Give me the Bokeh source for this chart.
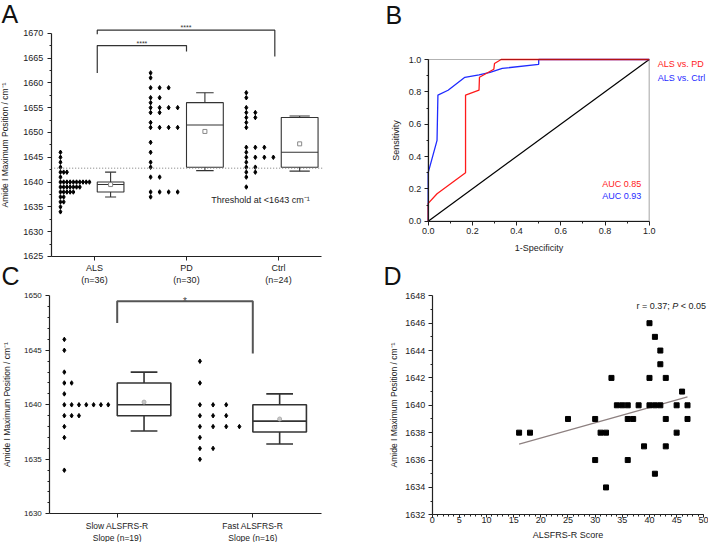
import numpy as np
from bokeh.plotting import figure
from bokeh.models import Range1d, FixedTicker, Label, NumeralTickFormatter, BoxAnnotation
from bokeh.layouts import column, row
from bokeh.embed import file_html
from bokeh.resources import INLINE

FONT = "Liberation Sans"
INK = "#222222"

# ---------------- Panel A data ----------------
tick_labels_A = ["ALS\n(n=36)", "PD\n(n=30)", "Ctrl\n(n=24)"]
als_values = [1646, 1645, 1644, 1643, 1642, 1642, 1642, 1641,
              1640, 1640, 1640, 1640, 1640, 1640, 1640, 1640, 1640, 1640,
              1639, 1639, 1639, 1639, 1639, 1639, 1639,
              1638, 1638, 1638, 1638, 1638,
              1637, 1637, 1636, 1636, 1635, 1634]
pd_values = [1662, 1661, 1659, 1659, 1659, 1657, 1657, 1656, 1655, 1655, 1655, 1655,
             1654, 1654, 1652, 1651, 1651, 1651, 1651, 1648, 1646, 1644, 1643,
             1641, 1641, 1638, 1638, 1638, 1638, 1637]
ctrl_values = [1658, 1657, 1655, 1654, 1654, 1653, 1653, 1652, 1651, 1647, 1647, 1647,
               1646, 1645, 1645, 1645, 1645, 1644, 1643, 1643, 1642, 1642, 1641, 1639]
box_A_low = [1637.0, 1642.3, 1642.2]
box_A_q1 = [1638.0, 1643.0, 1643.0]
box_A_median = [1639.5, 1651.5, 1646.0]
box_A_q3 = [1640.0, 1656.0, 1653.0]
box_A_high = [1642.0, 1658.0, 1653.3]
box_A_mean = [1639.5, 1650.2, 1647.7]
threshold_A = 1642.8
# (text, group a, group b, leg a bottom, leg b bottom, bracket top)
sig_A = [("****", 0, 1, 1662.0, 1666.3, 1667.5), ("****", 0, 2, 1669.8, 1665.3, 1670.6)]

# ---------------- Panel B data ----------------
roc_pd_fpr = [0.0, 0.0, 0.04, 0.169, 0.169, 0.23, 0.232, 0.297, 0.30, 0.33, 1.0]
roc_pd_tpr = [0.0, 0.11, 0.17, 0.30, 0.78, 0.81, 0.89, 0.94, 0.975, 1.0, 1.0]
roc_ctrl_fpr = [0.0, 0.0, 0.04, 0.044, 0.09, 0.166, 0.23, 0.28, 0.335, 0.5, 0.5, 1.0]
roc_ctrl_tpr = [0.0, 0.30, 0.50, 0.78, 0.81, 0.89, 0.905, 0.92, 0.945, 0.97, 1.0, 1.0]
auc_labels = ["AUC 0.85", "AUC 0.93"]
legend_labels = ["ALS vs. PD", "ALS vs. Ctrl"]

# ---------------- Panel C data ----------------
tick_labels_C = ["Slow ALSFRS-R\nSlope (n=19)", "Fast ALSFRS-R\nSlope (n=16)"]
slow_values = [1646, 1645, 1643, 1642, 1642, 1641,
               1640, 1640, 1640, 1640, 1640, 1640, 1640,
               1639, 1639, 1639, 1638, 1637, 1634]
fast_values = [1644, 1642, 1640, 1640, 1640, 1639, 1639, 1639,
               1638, 1638, 1638, 1638, 1637, 1636, 1636, 1635]
box_C_low = [1637.6, 1636.4]
box_C_q1 = [1639.0, 1637.5]
box_C_median = [1640.0, 1638.5]
box_C_q3 = [1642.0, 1640.0]
box_C_high = [1643.0, 1641.0]
box_C_mean = [1640.25, 1638.7]
sig_C = [("*", 0, 1, 1647.5, 1644.7, 1649.5)]

# ---------------- Panel D data ----------------
alsfrs_score = [16, 18, 25, 30, 30, 31, 32, 32, 33, 34, 35, 36, 36, 36, 37, 38, 39,
                40, 40, 40, 41, 41, 41, 42, 42, 42, 43, 43, 43, 45, 45, 46, 47, 47]
amide_position = [1638, 1638, 1639, 1639, 1636, 1638, 1638, 1634, 1642, 1640, 1640, 1640,
                  1639, 1636, 1639, 1640, 1637, 1646, 1642, 1640, 1645, 1640, 1635,
                  1644, 1643, 1640, 1642, 1639, 1637, 1640, 1638, 1641, 1640, 1639]


def make_fig(w, h, xr, yr):
    p = figure(width=w, height=h, x_range=Range1d(*xr), y_range=Range1d(*yr),
               output_backend="svg", toolbar_location=None, min_border=0)
    p.title.visible = False
    p.outline_line_color = None
    p.xgrid.visible = False
    p.ygrid.visible = False
    for ax in p.axis:
        ax.axis_line_color = INK
        ax.axis_line_width = 1.2
        ax.major_tick_line_color = INK
        ax.minor_tick_line_color = INK
        ax.major_tick_in = 0
        ax.major_tick_out = 4
        ax.minor_tick_in = 0
        ax.minor_tick_out = 2
        ax.major_label_text_font = FONT
        ax.major_label_text_font_size = "9px"
        ax.major_label_text_color = INK
        ax.axis_label_text_font = FONT
        ax.axis_label_text_font_size = "8.5px"
        ax.axis_label_text_font_style = "normal"
        ax.axis_label_text_color = INK
        ax.major_label_standoff = 3
        ax.axis_label_standoff = 8
    return p


def dot_positions(vals, center, start, step):
    xs, ys, used = [], [], {}
    for v in vals:
        k = used.get(v, 0)
        xs.append(center + start + k * step)
        ys.append(v)
        used[v] = k + 1
    return xs, ys


def draw_boxes(p, centers, widths, caps, low, q1, med, q3, high, color, lw):
    left = [c - w / 2 for c, w in zip(centers, widths)]
    right = [c + w / 2 for c, w in zip(centers, widths)]
    p.quad(left=left, right=right, bottom=q1, top=q3, fill_color=None, line_color=color, line_width=lw)
    p.segment(x0=left, x1=right, y0=med, y1=med, line_color=color, line_width=lw)
    p.segment(x0=centers, x1=centers, y0=q3, y1=high, line_color=color, line_width=lw)
    p.segment(x0=centers, x1=centers, y0=low, y1=q1, line_color=color, line_width=lw)
    cl = [c - w / 2 for c, w in zip(centers, caps)]
    cr = [c + w / 2 for c, w in zip(centers, caps)]
    p.segment(x0=cl, x1=cr, y0=high, y1=high, line_color=color, line_width=lw)
    p.segment(x0=cl, x1=cr, y0=low, y1=low, line_color=color, line_width=lw)


def draw_sig(p, sigs, xa_shift, xb_shift, color, lw, size, text_y_shift, text_color):
    for text, a, b, ya, yb, top in sigs:
        xa = a + xa_shift
        xb = b + xb_shift.get(b, 0)
        p.line([xa, xa, xb, xb], [ya, top, top, yb], line_color=color, line_width=lw)
        p.add_layout(Label(x=(xa + xb) / 2, y=top + text_y_shift, text=text, text_align="center",
                           text_baseline="alphabetic", text_font=FONT,
                           text_font_size=size, text_color=text_color))


def letter(p, x, y, t):
    p.add_layout(Label(x=x, y=y, text=t, text_font=FONT, text_font_size="25px",
                       text_baseline="middle", text_align="left", text_color="#111111"))


def text(p, x, y, t, color=INK, size="9px", style="normal", dx=0):
    p.add_layout(Label(x=x, y=y, x_offset=dx, text=t, text_font=FONT, text_font_size=size,
                       text_font_style=style, text_baseline="middle", text_color=color))


# ================= Panel A =================
pA = make_fig(340, 290, (-1.0217, 2.6739), (1618.148, 1676.59))
A_axis_x = -0.4707
A_axis_right = 2.4674
pA.yaxis.fixed_location = A_axis_x
pA.yaxis.bounds = (1625, 1670)
pA.yaxis.ticker = FixedTicker(ticks=list(range(1625, 1671, 5)),
                              minor_ticks=[1627.5 + 5 * i for i in range(9)])
pA.yaxis.axis_label = "Amide I Maximum Position / cm\u207b\u00b9"
pA.yaxis.major_label_standoff = 4
pA.yaxis.axis_label_standoff = 10
pA.xaxis.fixed_location = 1625
pA.xaxis.bounds = (A_axis_x, A_axis_right)
pA.xaxis.ticker = FixedTicker(ticks=[0, 1, 2], minor_ticks=[])
pA.xaxis.major_label_overrides = {i: lab for i, lab in enumerate(tick_labels_A)}

dot_start_A = [-0.37, -0.39, -0.35]
dot_step_A = [0.035, 0.098, 0.098]
for i, vals in enumerate([als_values, pd_values, ctrl_values]):
    xs, ys = dot_positions(vals, i, dot_start_A[i], dot_step_A[i])
    pA.scatter(xs, ys, marker="diamond", size=4.5, color="black")

box_centers_A = [i + off for i, off in enumerate([0.175, 0.2, 0.23])]
draw_boxes(pA, box_centers_A, [0.29, 0.4, 0.4], [0.12, 0.19, 0.22], box_A_low, box_A_q1,
           box_A_median, box_A_q3, box_A_high, "#333333", 1.1)
pA.scatter(box_centers_A, box_A_mean, marker="square", size=4, fill_color="white", line_color="#888888")
pA.line([A_axis_x, 2.489], [threshold_A, threshold_A], line_color="#777777", line_dash="1 2", line_width=1)
text(pA, 1.27, 1636.3, "Threshold at <1643 cm\u207b\u00b9")
draw_sig(pA, sig_A, 0.03, {2: -0.04}, "#333333", 1.2, "7px", 0.5, "#333333")
letter(pA, -1.011, 1673.77, "A")
letter(pA, -1.011, 1620.97, "C")

# ================= Panel B =================
pB = make_fig(368, 290, (-0.3968, 1.2683), (-0.4286, 1.3649))
for ax in (pB.xaxis[0], pB.yaxis[0]):
    ax.fixed_location = 0
    ax.bounds = (0, 1)
    ax.ticker = FixedTicker(ticks=[0, 0.2, 0.4, 0.6, 0.8, 1.0],
                            minor_ticks=[0.1, 0.3, 0.5, 0.7, 0.9])
    ax.formatter = NumeralTickFormatter(format="0.0")
    ax.axis_label_text_font_size = "9px"
    ax.axis_label_standoff = 5
pB.xaxis.axis_label = "1-Specificity"
pB.yaxis.axis_label = "Sensitivity"
pB.add_layout(BoxAnnotation(left=0, right=1, bottom=0, top=1, fill_color=None,
                            line_color="black", line_width=1.2))
pB.line([0, 1], [0, 1], line_color="black", line_width=1.2)
col_ctrl = "#1f2bff"
col_pd = "#ff1a1a"
pB.line(roc_ctrl_fpr, roc_ctrl_tpr, line_color=col_ctrl, line_width=1.3)
pB.line(roc_pd_fpr, roc_pd_tpr, line_color=col_pd, line_width=1.3)
text(pB, 1.039, 0.975, legend_labels[0], col_pd)
text(pB, 1.039, 0.883, legend_labels[1], col_ctrl)
text(pB, 0.787, 0.228, auc_labels[0], col_pd)
text(pB, 0.787, 0.154, auc_labels[1], col_ctrl)
letter(pB, -0.1932, 1.2752, "B")
letter(pB, -0.2023, -0.342, "D")

# ================= Panel C =================
pC = make_fig(340, 252, (-0.8606, 1.6468), (1627.367, 1650.486))
C_axis_x = -0.4971
pC.yaxis.fixed_location = C_axis_x
pC.yaxis.bounds = (1630, 1650)
pC.yaxis.ticker = FixedTicker(ticks=list(range(1630, 1651, 5)),
                              minor_ticks=[v for v in range(1630, 1651) if v % 5])
pC.yaxis.axis_label = "Amide I Maximum Position / cm\u207b\u00b9"
pC.yaxis.major_label_text_font_size = "8px"
pC.yaxis.major_label_standoff = 4
pC.yaxis.axis_label_standoff = 9
pC.xaxis.fixed_location = 1630
pC.xaxis.bounds = (C_axis_x, 1.5066)
pC.xaxis.ticker = FixedTicker(ticks=[0, 1], minor_ticks=[])
pC.xaxis.major_label_overrides = {i: lab for i, lab in enumerate(tick_labels_C)}
pC.xaxis.major_label_text_font_size = "8.5px"

dot_start_C = [-0.39, -0.39]
dot_step_C = [0.054, 0.097]
for i, vals in enumerate([slow_values, fast_values]):
    xs, ys = dot_positions(vals, i, dot_start_C[i], dot_step_C[i])
    pC.scatter(xs, ys, marker="diamond", size=4.5, color="black")

box_centers_C = [i + 0.198 for i in range(2)]
draw_boxes(pC, box_centers_C, [0.395, 0.395], [0.197, 0.197], box_C_low, box_C_q1, box_C_median,
           box_C_q3, box_C_high, "#333333", 1.6)
pC.scatter(box_centers_C, box_C_mean, marker="circle", size=4, fill_color="#c8c8c8", line_color="#b0b0b0")
draw_sig(pC, sig_C, 0, {}, "#555555", 2, "10px", 0.0, "#444444")

# ================= Panel D =================
pD = make_fig(368, 252, (-16.881, 50.866), (1629.976, 1648.387))
pD.yaxis.fixed_location = 0
pD.yaxis.bounds = (1632, 1648)
pD.xaxis.fixed_location = 1632
pD.xaxis.bounds = (0, 50)
pD.xaxis.ticker = FixedTicker(ticks=list(range(0, 51, 5)), minor_ticks=list(range(0, 51)))
pD.yaxis.ticker = FixedTicker(ticks=list(range(1632, 1649, 2)), minor_ticks=list(range(1633, 1648, 2)))
pD.xaxis.axis_label = "ALSFRS-R Score"
pD.xaxis.axis_label_text_font_size = "9px"
pD.xaxis.major_tick_out = 3
pD.xaxis.major_label_standoff = -1
pD.xaxis.axis_label_standoff = 4
pD.yaxis.axis_label = "Amide I Maximum Position / cm\u207b\u00b9"
pD.yaxis.axis_label_standoff = 3

slope, intercept = np.polyfit(alsfrs_score, amide_position, 1)
fx = [min(alsfrs_score), max(alsfrs_score)]
pD.line(fx, [slope * v + intercept for v in fx], line_color="#8d8080", line_width=1.2)
pD.scatter(alsfrs_score, amide_position, marker="square", size=5, color="black")
text(pD, 37.61, 1647.22, "r = 0.37;")
text(pD, 37.61, 1647.22, "P", style="italic", dx=35.8)
text(pD, 37.61, 1647.22, "< 0.05", dx=44.3)

layout = row(column(pA, pC), column(pB, pD))
open("out.html", "w").write(file_html(layout, INLINE))
